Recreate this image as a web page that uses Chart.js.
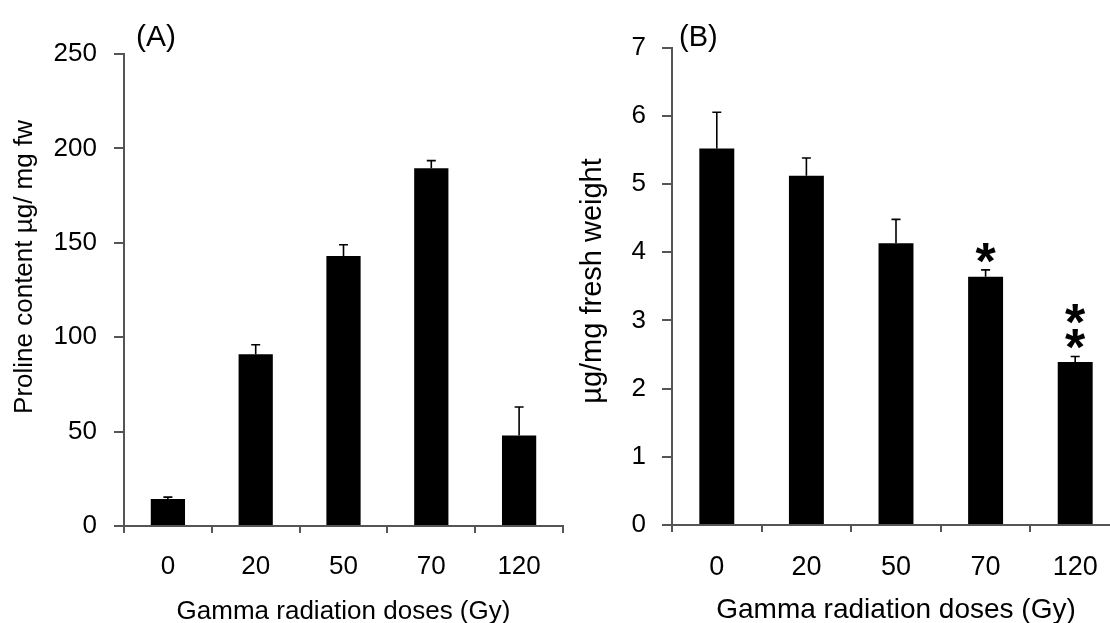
<!DOCTYPE html>
<html>
<head>
<meta charset="utf-8">
<script src="https://cdn.jsdelivr.net/npm/chart.js@4.4.0/dist/chart.umd.min.js"></script>
<style>
  html, body { margin: 0; padding: 0; background: #fff; overflow: hidden; width: 1110px; height: 623px; }
  #wrapA { position: absolute; left: 0; top: 0; width: 565px; height: 623px; }
  #wrapB { position: absolute; left: 565px; top: 0; width: 565px; height: 623px; }
</style>
</head>
<body>
<div id="wrapA"><canvas id="chartA" width="565" height="623"></canvas></div>
<div id="wrapB"><canvas id="chartB" width="565" height="623"></canvas></div>
<script>
// data
const doses = ['0', '20', '50', '70', '120'];

const prolineMeans = [14.3, 91, 143, 189.5, 48];
const prolineErrors = [1, 5, 6, 4, 15];
const prolineTicks = [0, 50, 100, 150, 200, 250];

const weightMeans = [5.52, 5.12, 4.13, 3.64, 2.39];
const weightErrors = [0.53, 0.26, 0.35, 0.10, 0.08];
const weightStars = ['', '', '', '*', '**'];
const weightTicks = [0, 1, 2, 3, 4, 5, 6, 7];

Chart.defaults.font.family = '"Liberation Sans", Arial, sans-serif';
Chart.defaults.color = '#000';

// error bars, asterisks, panel letter and y title
const extras = {
    id: 'extras',
    afterDatasetsDraw(chart, args, opts) {
        const ctx = chart.ctx;
        const yScale = chart.scales.y;
        const vals = chart.data.datasets[0].data;
        const bars = chart.getDatasetMeta(0).data;
        const starSize = 52;
        ctx.save();
        ctx.strokeStyle = '#000';
        ctx.lineWidth = 1.6;
        bars.forEach((bar, i) => {
            const top = yScale.getPixelForValue(vals[i] + opts.errors[i]);
            ctx.beginPath();
            ctx.moveTo(bar.x, bar.y);
            ctx.lineTo(bar.x, top);
            ctx.moveTo(bar.x - 4.5, top);
            ctx.lineTo(bar.x + 4.5, top);
            ctx.stroke();

            const stars = (opts.stars || [])[i] || '';
            ctx.fillStyle = '#000';
            ctx.font = 'bold ' + starSize + 'px "Liberation Sans", Arial, sans-serif';
            ctx.textAlign = 'center';
            ctx.textBaseline = 'alphabetic';
            for (let k = 0; k < stars.length; k++) {
                const cy = top - 21 - k * 25;
                ctx.fillText('*', bar.x, cy + 0.575 * starSize);
            }
        });

        // panel letter
        ctx.fillStyle = '#000';
        ctx.font = opts.labelSize + 'px "Liberation Sans", Arial, sans-serif';
        ctx.textAlign = 'left';
        ctx.textBaseline = 'middle';
        ctx.fillText(opts.label, opts.labelX, 38);

        // y axis title
        ctx.translate(opts.titleX, opts.titleY);
        ctx.rotate(-Math.PI / 2);
        ctx.font = opts.titleSize + 'px "Liberation Sans", Arial, sans-serif';
        ctx.textAlign = 'center';
        ctx.fillText(opts.title, 0, 0);
        ctx.restore();
    }
};

function makeChart(id, values, cfg) {
    const ctx = document.getElementById(id).getContext('2d');
    return new Chart(ctx, {
        type: 'bar',
        data: {
            labels: doses,
            datasets: [{
                data: values,
                backgroundColor: '#000',
                borderColor: '#000',
                borderWidth: 0,
                barPercentage: 0.39,
                categoryPercentage: 1
            }]
        },
        plugins: [extras],
        options: {
            responsive: false,
            animation: false,
            layout: { padding: { top: cfg.top, right: cfg.right, bottom: 0, left: 0 } },
            plugins: {
                legend: { display: false },
                tooltip: { enabled: false },
                extras: cfg.extras
            },
            scales: {
                x: {
                    grid: { offset: true, drawOnChartArea: false, drawTicks: true, tickLength: 7, color: '#555', lineWidth: 2 },
                    border: { display: true, color: '#555', width: 2 },
                    ticks: { color: '#000', font: { size: cfg.xTickSize }, padding: cfg.xTickPad, maxRotation: 0 },
                    title: {
                        display: true,
                        text: 'Gamma radiation doses (Gy)',
                        color: '#000',
                        font: { size: cfg.xTitleSize, lineHeight: cfg.xTitleLH },
                        padding: 0
                    },
                    afterFit(scale) { scale.height = cfg.xHeight; }
                },
                y: {
                    min: cfg.ticks[0],
                    max: cfg.ticks[cfg.ticks.length - 1],
                    grid: { drawOnChartArea: false, drawTicks: true, tickLength: 10, color: '#555', lineWidth: 2 },
                    border: { display: true, color: '#555', width: 2 },
                    ticks: {
                        stepSize: cfg.ticks[1] - cfg.ticks[0],
                        color: '#000',
                        font: { size: cfg.yTickSize },
                        padding: cfg.yTickPad
                    },
                    afterFit(scale) { scale.width = cfg.yWidth; }
                }
            }
        }
    });
}

document.addEventListener('DOMContentLoaded', function () {
    makeChart('chartA', prolineMeans, {
        top: 54, right: 2, xHeight: 97, yWidth: 124,
        xTickSize: 26, xTickPad: 18, xTitleSize: 26, xTitleLH: 0.85,
        yTickSize: 26, yTickPad: 17, ticks: prolineTicks,
        extras: {
            errors: prolineErrors, stars: [],
            label: '(A)', labelX: 136, labelSize: 30,
            title: 'Proline content µg/ mg fw', titleX: 25, titleY: 267, titleSize: 26
        }
    });

    makeChart('chartB', weightMeans, {
        top: 47.5, right: 10, xHeight: 98, yWidth: 107,
        xTickSize: 27, xTickPad: 19, xTitleSize: 28, xTitleLH: 0.93,
        yTickSize: 26, yTickPad: 16, ticks: weightTicks,
        extras: {
            errors: weightErrors, stars: weightStars,
            label: '(B)', labelX: 114, labelSize: 29,
            title: 'µg/mg fresh weight', titleX: 28, titleY: 281, titleSize: 29
        }
    });
});
</script>
</body>
</html>
